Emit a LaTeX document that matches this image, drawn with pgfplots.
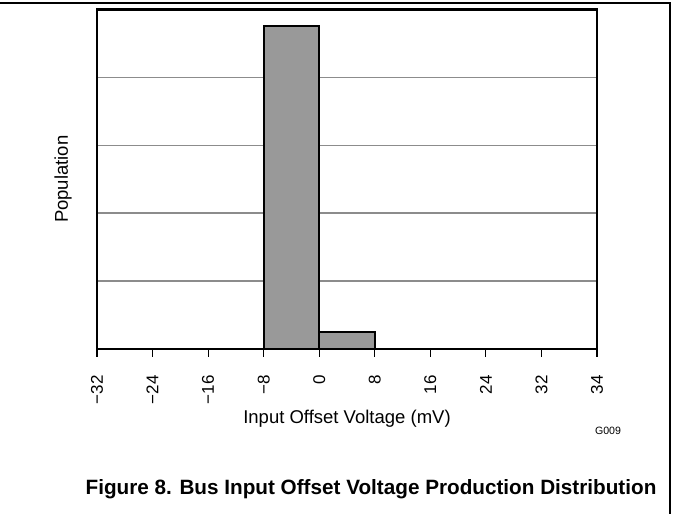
\documentclass[border=0pt]{standalone}
\usepackage{pgfplots}
\pgfplotsset{compat=1.18}
\usepackage{fontspec}
\setmainfont{Liberation Sans}
\definecolor{barfill}{RGB}{153,153,153}
\definecolor{gridgray}{RGB}{140,140,140}
\begin{document}
\begin{tikzpicture}[x=1pt,y=1pt]
\path[use as bounding box] (0,0) rectangle (673,514);
\draw[line width=1.3pt] (0,511) -- (670,511) -- (670,0);
\begin{axis}[
  at={(97pt,165pt)}, anchor=south west,
  scale only axis, width=500pt, height=339.5pt,
  xmin=0, xmax=9, ymin=0, ymax=5,
  xtick={0,1,2,3,4,5,6,7,8,9},
  xticklabels={−32,−24,−16,−8,0,8,16,24,32,34},
  ytick={1,2,3,4}, yticklabels={},
  ymajorgrids, major grid style={gridgray, line width=1.5pt},
  axis line style={line width=2.5pt},
  tick align=outside, major tick length=8pt,
  x tick style={black, line width=1.2pt},
  y tick style={draw=none},
  xtick pos=lower,
  xticklabel style={rotate=90, anchor=east, xshift=-15pt, font=\fontsize{17}{20}\selectfont},
  xlabel={Input Offset Voltage (mV)},
  ylabel={Population},
  xlabel style={at={(axis description cs:0.5,0)}, anchor=center, yshift=-70pt, font=\fontsize{18.5}{22}\selectfont},
  ylabel style={at={(axis description cs:-0.068,0.5)}, anchor=center, font=\fontsize{18.5}{22}\selectfont},
]
\addplot[ybar interval, fill=barfill, draw=black, line width=2pt] coordinates {(3,4.75) (4,0.25) (5,0)};
\end{axis}
\node[font=\fontsize{10.6}{12}\selectfont] at (608,83) {G009};
\node[font=\bfseries\fontsize{20.7}{24}\selectfont] at (371,25) {Figure 8. Bus Input Offset Voltage Production Distribution};
\end{tikzpicture}
\end{document}
